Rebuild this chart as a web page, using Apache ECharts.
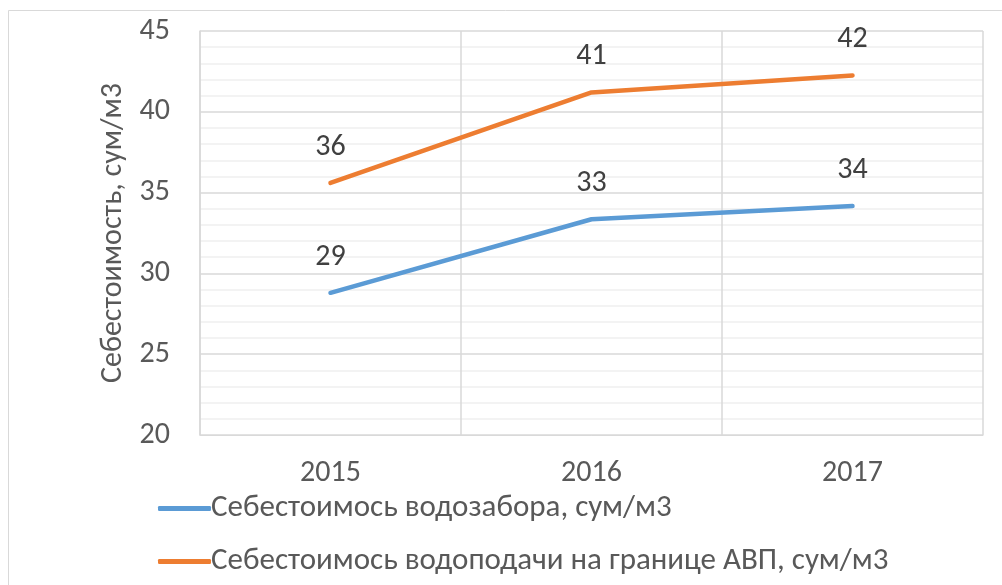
<!DOCTYPE html>
<html>
<head>
<meta charset="utf-8">
<script src="https://cdn.jsdelivr.net/npm/echarts@6/dist/echarts.min.js"></script>
<style>
  html, body { margin: 0; padding: 0; background: #fff; }
  #chart { width: 1002px; height: 585px; }
</style>
</head>
<body>
<div id="chart"></div>
<script>
// years on the x axis
const years = ["2015", "2016", "2017"];
// cost of water intake, sum/m3
const intakeCost = [28.8, 33.35, 34.17];
// cost of water supply at the WUA border, sum/m3
const supplyCost = [35.6, 41.2, 42.25];
const seriesNames = [
  "Себестоимось водозабора, сум/м3",
  "Себестоимось водоподачи на границе АВП, сум/м3"
];
const yName = "Себестоимость, сум/м3";

const font = "Carlito, 'Noto Sans', sans-serif";
var myChart = echarts.init(document.getElementById("chart"));

const lineSeries = (name, data, color) => ({
  name: name,
  type: "line",
  data: data,
  symbol: "circle",
  symbolSize: 1,
  itemStyle: { color: color },
  lineStyle: { color: color, width: 4.5, cap: "round", join: "round" },
  label: {
    show: true,
    position: "top",
    distance: 20,
    fontSize: 30,
    fontFamily: font,
    color: "#404040",
    formatter: (p) => Math.round(p.value)
  }
});

var option = {
  animation: false,
  backgroundColor: "#fff",
  graphic: [
    {
      type: "rect",
      shape: { x: 8.5, y: 10.5, width: 1100, height: 700 },
      style: { fill: "none", stroke: "#d9d9d9", lineWidth: 1 }
    }
  ],
  grid: { left: 200, right: 19, top: 31, bottom: 150 },
  legend: {
    orient: "vertical",
    left: 153,
    top: 488,
    itemGap: 22,
    itemWidth: 53,
    itemHeight: 5,
    icon: "roundRect",
    textStyle: { fontSize: 31, fontFamily: font, color: "#595959", padding: [0, 0, 0, -5] },
    data: seriesNames
  },
  xAxis: {
    type: "category",
    data: years,
    boundaryGap: true,
    axisLine: { lineStyle: { color: "#d9d9d9" } },
    axisTick: { show: false },
    splitLine: { show: true, lineStyle: { color: "#d9d9d9", width: 1.5 } },
    axisLabel: { fontSize: 30, fontFamily: font, color: "#595959", margin: 23 }
  },
  yAxis: {
    type: "value",
    min: 20,
    max: 45,
    interval: 5,
    name: yName,
    nameLocation: "middle",
    nameGap: 68,
    nameTextStyle: { fontSize: 30, fontFamily: font, color: "#595959" },
    axisLine: { show: true, lineStyle: { color: "#d9d9d9", width: 1.5 } },
    axisTick: { show: false },
    axisLabel: { fontSize: 30, fontFamily: font, color: "#595959", margin: 30 },
    splitLine: { lineStyle: { color: "#d9d9d9", width: 1.5 } },
    minorTick: { show: false, splitNumber: 5 },
    minorSplitLine: { show: true, lineStyle: { color: "#f0f0f0", width: 1.5 } }
  },
  series: [
    lineSeries(seriesNames[0], intakeCost, "#5B9BD5"),
    lineSeries(seriesNames[1], supplyCost, "#ED7D31")
  ]
};
myChart.setOption(option);
</script>
</body>
</html>
